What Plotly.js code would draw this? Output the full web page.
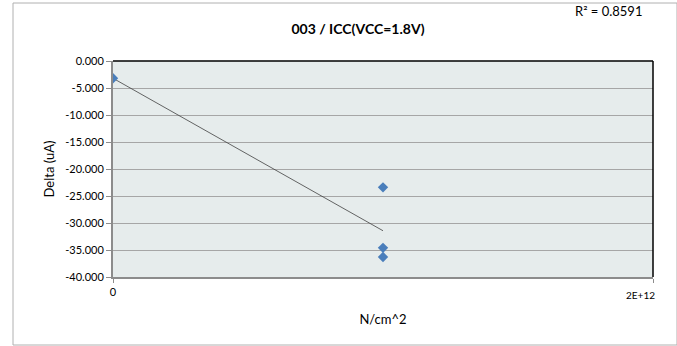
<!DOCTYPE html>
<html>
<head>
<meta charset="utf-8">
<script src="https://cdn.plot.ly/plotly-3.0.1.min.js"></script>
<style>html,body{margin:0;padding:0;background:#fff;}#chart{width:677px;height:346px;}</style>
</head>
<body>
<div id="chart"></div>
<script>
const xValues = [0, 1e12, 1e12, 1e12];
const yValues = [-3.2, -23.4, -34.6, -36.3];
const yTicks = [0, -5, -10, -15, -20, -25, -30, -35, -40];
const yTickLabels = ["0.000", "-5.000", "-10.000", "-15.000", "-20.000", "-25.000", "-30.000", "-35.000", "-40.000"];
const xTicks = [0, 2e12];
const xTickLabels = ["0", "2E+12"];
const chartTitle = "003 / ICC(VCC=1.8V)";
const rSquaredText = "R² = 0.8591";

// linear regression trendline
const n = xValues.length;
const mx = xValues.reduce((a, b) => a + b, 0) / n;
const my = yValues.reduce((a, b) => a + b, 0) / n;
let sxy = 0, sxx = 0;
for (let i = 0; i < n; i++) { sxy += (xValues[i] - mx) * (yValues[i] - my); sxx += (xValues[i] - mx) ** 2; }
const slope = sxy / sxx;
const intercept = my - slope * mx;
const tx = [Math.min(...xValues), Math.max(...xValues)];
const ty = tx.map(x => intercept + slope * x);

const font = "Lato, 'Open Sans', sans-serif";
const W = 540, H = 216, L = 113, T = 61;
const px = v => (v - L) / W;
const py = v => (T + H - v) / H;

const traces = [
  { x: tx, y: ty, mode: "lines", line: { color: "#404040", width: 0.8 }, hoverinfo: "skip", showlegend: false },
  { x: xValues, y: yValues, mode: "markers", marker: { symbol: "diamond", size: 8, color: "#4a7ebb" }, showlegend: false }
];

const layout = {
  width: 677, height: 346,
  margin: { l: L, r: 677 - L - W, t: T, b: 346 - T - H },
  paper_bgcolor: "#ffffff",
  plot_bgcolor: "#e6ecec",
  showlegend: false,
  font: { family: font, size: 11, color: "#000" },
  title: { text: "<b>" + chartTitle + "</b>", x: px(358), xref: "paper", xanchor: "center", y: 1 - 29 / 346, yanchor: "middle", font: { family: font, size: 14, color: "#000" } },
  xaxis: {
    range: [0, 2e12], tickmode: "array", tickvals: xTicks, ticktext: [xTickLabels[0], ""],
    showgrid: false, zeroline: false, showline: true, linecolor: "#8c8c8c", linewidth: 2,
    ticks: "outside", ticklen: 4, tickcolor: "#8c8c8c", tickfont: { family: font, size: 11 },
    title: { text: "N/cm^2", font: { family: font, size: 13 }, standoff: 18 }
  },
  yaxis: {
    range: [-40, 0], tickmode: "array", tickvals: yTicks, ticktext: yTickLabels,
    showgrid: true, gridcolor: "#a6a6a6", gridwidth: 1, zeroline: false,
    showline: true, linecolor: "#8c8c8c", linewidth: 2,
    ticks: "outside", ticklen: 5, tickcolor: "#8c8c8c", tickfont: { family: font, size: 11 },
    title: { text: "Delta (uA)", font: { family: font, size: 13 }, standoff: 8 }
  },
  shapes: [
    { type: "line", xref: "paper", yref: "paper", x0: 0, x1: 1, y0: 1, y1: 1, line: { color: "#000", width: 1.5 } },
    { type: "line", xref: "paper", yref: "paper", x0: 1, x1: 1, y0: 0, y1: 1, line: { color: "#000", width: 1.5 } },
    { type: "rect", xref: "paper", yref: "paper", x0: px(13), x1: px(677), y0: py(345), y1: py(3), line: { color: "#b0b0b0", width: 1 }, fillcolor: "rgba(0,0,0,0)", layer: "below" }
  ],
  annotations: [
    { text: rSquaredText, xref: "paper", yref: "paper", x: px(608), y: py(11), xanchor: "center", yanchor: "middle", showarrow: false, font: { family: font, size: 13, color: "#000" } },
    { text: xTickLabels[1], xref: "paper", yref: "paper", x: px(640), y: py(295), xanchor: "center", yanchor: "middle", showarrow: false, font: { family: font, size: 10, color: "#000" } }
  ]
};

Plotly.newPlot("chart", traces, layout, { staticPlot: true, displayModeBar: false });
</script>
</body>
</html>
